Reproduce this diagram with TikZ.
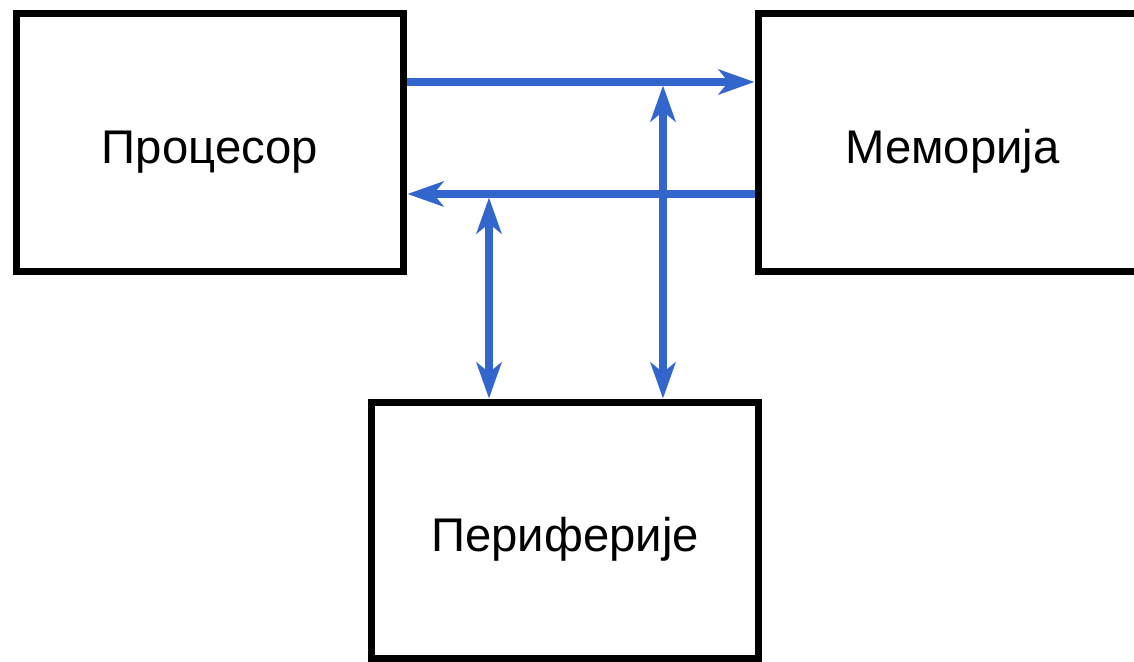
\documentclass[tikz,border=0pt]{standalone}
\usepackage{fontspec}
\setmainfont{Liberation Sans}
\usetikzlibrary{arrows.meta}
\definecolor{busblue}{HTML}{3366CC}
\tikzset{
  unit/.style={draw=black, line width=0.14cm, fill=white, inner sep=0pt,
    font=\fontsize{26.9pt}{31pt}\selectfont, text height=0.84cm, text depth=0pt},
  bus/.style={draw=busblue, line width=0.145cm},
  tip/.tip={Stealth[length=0.72cm, width=0.5cm, inset=0.2cm]}
}
\begin{document}
\begin{tikzpicture}[x=0.02cm, y=-0.02cm]
\useasboundingbox (0,0) rectangle (1134,662);
\node[unit, minimum width=7.76cm, minimum height=5.18cm] (proc) at (210,142.5) {Процесор};
\node[unit, minimum width=7.78cm, minimum height=5.18cm] (mem) at (952.5,142.5) {Меморија};
\node[unit, minimum width=7.74cm, minimum height=5.14cm] (peri) at (565,530.5) {Периферије};
\coordinate (r1) at (0,82);
\coordinate (r2) at (0,194);
\coordinate (c1) at (489,0);
\coordinate (c2) at (663,0);
\draw[bus, -tip] (proc.east |- r1) -- (mem.west |- r1);
\draw[bus, -tip] (mem.west |- r2) -- (proc.east |- r2);
\draw[bus, tip-tip] ([yshift=-0.07cm]c1 |- r2) -- (peri.north -| c1);
\draw[bus, tip-tip] ([yshift=-0.07cm]c2 |- r1) -- (peri.north -| c2);
\end{tikzpicture}
\end{document}
